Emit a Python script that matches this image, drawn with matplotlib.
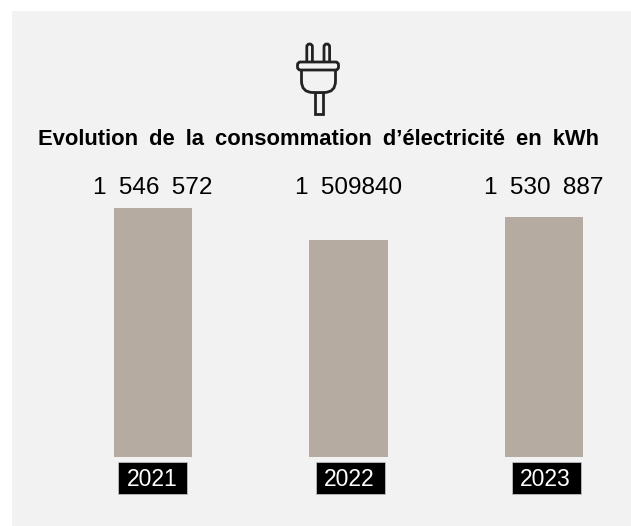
import matplotlib.pyplot as plt
from matplotlib.patches import Rectangle, FancyBboxPatch, PathPatch
from matplotlib.path import Path

years = ["2021", "2022", "2023"]
value_labels = ["1 546 572", "1 509840", "1 530 887"]
# bar heights, they are not quite proportional to the labels
bar_heights = [249, 217, 240]
title = "Evolution de la consommation d’électricité en kWh"

W, H = 631, 526
plt.rcParams["font.family"] = ["Liberation Sans", "DejaVu Sans"]


def tracked(s):
    # the reference is letter-spaced, wider spaces make up the width
    return s.replace(" ", "\u2002")


fig = plt.figure(figsize=(W / 100, H / 100), dpi=100, facecolor="white")

# overlay in pixel coordinates for the panel, icon and year boxes
bg = fig.add_axes([0, 0, 1, 1])
bg.set_xlim(0, W)
bg.set_ylim(H, 0)
bg.axis("off")
bg.add_patch(Rectangle((12, 11), W - 12, H - 11, fc="#f2f2f2", ec="none"))

# plug icon
ink = "#222222"
lw = 2.0
line = dict(fc="none", ec=ink, lw=lw, zorder=3)
bg.add_patch(FancyBboxPatch((306.8, 44), 5.6, 20, boxstyle="round,pad=0,rounding_size=2.8", **line))
bg.add_patch(FancyBboxPatch((324, 44), 5.6, 20, boxstyle="round,pad=0,rounding_size=2.8", **line))
bg.add_patch(Rectangle((314.5, 92), 8, 22, **line))
body = Path(
    [(301.5, 70), (301.5, 81), (301.5, 92.5), (313, 92.5), (324, 92.5), (335.5, 92.5), (335.5, 81), (335.5, 70)],
    [Path.MOVETO, Path.LINETO, Path.CURVE3, Path.CURVE3, Path.LINETO, Path.CURVE3, Path.CURVE3, Path.LINETO],
)
bg.add_patch(PathPatch(body, facecolor="#f2f2f2", edgecolor=ink, lw=lw, zorder=4))
bg.add_patch(FancyBboxPatch((297.5, 62), 41, 8, boxstyle="round,pad=0,rounding_size=3",
                            fc="#f2f2f2", ec=ink, lw=lw, zorder=5))

bg.text(318, 145, tracked(title), ha="center", va="baseline",
        fontsize=15.8, fontweight="bold", color="black")

# bars
left, right = 55.25, 641.75
ax = fig.add_axes([left / W, (H - 457) / H, (right - left) / W, 300 / H])
ax.patch.set_alpha(0)
xs = range(len(years))
ax.bar(xs, bar_heights, width=0.4, color="#b5aba1")
ax.set_xlim(-0.5, 2.5)
ax.set_ylim(0, 300)
ax.axis("off")

# value labels share one baseline, whatever the bar height
for x, lab in zip(xs, value_labels):
    ax.text(x, 262.5, tracked(lab), ha="center", va="baseline", fontsize=17.6, color="black")

for cx, year in zip([152.5, 350, 546], years):
    bg.add_patch(Rectangle((cx - 34.5, 462), 69, 32, fc="black", ec="#cccccc", lw=0.5))
    bg.text(cx - 0.5, 486, year, ha="center", va="baseline", fontsize=16.5, color="white")

fig.savefig("out.png", dpi=100)
